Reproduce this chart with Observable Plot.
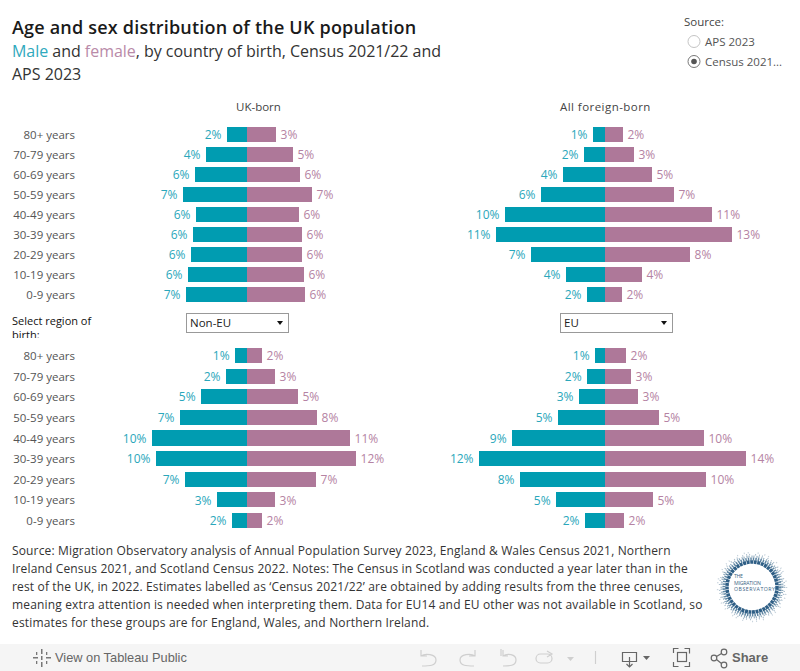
<!DOCTYPE html>
<html><head><meta charset="utf-8">
<script src="https://cdn.jsdelivr.net/npm/d3@7"></script>
<script src="https://cdn.jsdelivr.net/npm/@observablehq/plot@0.6"></script>
<style>
html,body{margin:0;padding:0;background:#fff;overflow:hidden}
#page{position:relative;width:800px;height:671px;overflow:hidden;font-family:"Open Sans",sans-serif;color:#333}
.t{position:absolute;white-space:nowrap}
.panel{position:absolute}
.panel svg{display:block;background:transparent}
.dd{position:absolute;box-sizing:border-box;border:1px solid #999;height:20px;background:#fff;font-size:11.5px;line-height:18px;padding-left:3px;color:#222}
.dd:after{content:"";position:absolute;right:5px;top:7px;border-left:3.5px solid transparent;border-right:3.5px solid transparent;border-top:4px solid #111}
</style></head><body>
<div id="page">
<div class="t" style="left:12px;top:15px;font-size:18px;font-weight:600;color:#1a1a1a;letter-spacing:.2px">Age and sex distribution of the UK population</div>
<div class="t" style="left:12px;top:40px;font-size:16px;color:#333;letter-spacing:-.03px"><span style="color:#2fa9bd">Male</span> and <span style="color:#b98aa8">female</span>, by country of birth, Census 2021/22 and</div>
<div class="t" style="left:12px;top:63px;font-size:16px;color:#333">APS 2023</div>

<div class="t" style="left:684px;top:14px;font-size:11.5px;color:#444">Source:</div>
<svg style="position:absolute;left:685px;top:33px" width="16" height="36">
<circle cx="9" cy="8.500" r="6" fill="#fff" stroke="#c4c4c4"/>
<circle cx="9" cy="28.500" r="6" fill="#fff" stroke="#777"/>
<circle cx="9" cy="28.500" r="2.800" fill="#555"/>
</svg>
<div class="t" style="left:705px;top:34px;font-size:11.5px;color:#555">APS 2023</div>
<div class="t" style="left:705px;top:54px;font-size:11.5px;color:#555">Census 2021...</div>

<div class="t" style="left:236px;top:99px;font-size:11.5px;color:#444">UK-born</div>
<div class="t" style="left:560px;top:99px;font-size:11.5px;color:#444;letter-spacing:.45px">All foreign-born</div>

<div class="t" style="left:12px;top:314px;width:100px;height:24px;overflow:hidden;white-space:normal;font-size:11px;line-height:14px;color:#111">Select region of<br>birth:</div>
<div class="dd" style="left:186px;top:313px;width:103px">Non-EU</div>
<div class="dd" style="left:560px;top:313px;width:113px">EU</div>

<div id="plots"></div>

<div class="t" id="cap" style="left:12px;top:542px;font-size:12px;line-height:18px;color:#333;letter-spacing:.155px"></div>

<svg style="position:absolute;left:716px;top:551px" width="72" height="72" viewBox="0 0 72 72">
<circle cx="36" cy="36" r="34.500" fill="none" stroke="#c3d0da" stroke-width="1.500" stroke-dasharray="1 6 1 3 1 9"/>
<circle cx="36" cy="36" r="32.500" fill="none" stroke="#a9bccb" stroke-width="1.500" stroke-dasharray="1 3 1 2 1 5"/>
<circle cx="36" cy="36" r="30.500" fill="none" stroke="#86a3b8" stroke-width="2" stroke-dasharray="1 2 1 1"/>
<circle cx="36" cy="36" r="28" fill="none" stroke="#5f86a3" stroke-width="3" stroke-dasharray="1.500 1"/>
<circle cx="36" cy="36" r="25" fill="none" stroke="#2f5f86" stroke-width="3.500" stroke-dasharray="3 .6"/>
<text x="18" y="27" font-size="5.200" fill="#3b6485" textLength="9">THE</text>
<text x="18" y="33.500" font-size="5.200" fill="#3b6485" textLength="27">MIGRATION</text>
<text x="18" y="40" font-size="5.200" fill="#3b6485" textLength="41">OBSERVATORY</text>
</svg>

<div style="position:absolute;left:0;top:644px;width:800px;height:27px;background:#f5f5f5"></div>
<svg style="position:absolute;left:32px;top:648px" width="20" height="20" fill="#777">
<rect x="9" y="1" width="1.500" height="5"/><rect x="9" y="14" width="1.500" height="5"/><rect x="1" y="9" width="5" height="1.500"/><rect x="14" y="9" width="5" height="1.500"/><rect x="4" y="4" width="1.300" height="3"/><rect x="14" y="4" width="1.300" height="3"/><rect x="4" y="13" width="1.300" height="3"/><rect x="14" y="13" width="1.300" height="3"/><rect x="9" y="8" width="1.500" height="4"/>
</svg>
<div class="t" style="left:55px;top:650px;font-family:'Liberation Sans',sans-serif;font-size:12.8px;color:#666">View on Tableau Public</div>
<svg style="position:absolute;left:410px;top:644px" width="390" height="27" fill="none" stroke="#cfcfcf" stroke-width="1.200">
<path d="M11 6v6h6M11 12c4-3 15-2 15 4s-7 6-14 6"/>
<path d="M65 6v6h-6M65 12c-4-3-15-2-15 4s7 6 14 6"/>
<path d="M91 5v7M93 6v6h5M93 12c4-3 13-2 13 4s-7 6-13 6"/>
<rect x="126" y="10" width="16" height="9" rx="4.500"/><path d="M137 7l5 3-5 3"/>
<path d="M157 13h7l-3.500 4z" fill="#cfcfcf" stroke="none"/><path d="M185.500 7v13"/>
<g stroke="#666">
<path d="M212.500 8.500h14v9h-14zM219.500 13v10M216.500 20l3 3 3-3"/>
<path d="M233 12h7l-3.500 4z" fill="#666" stroke="none"/>
<rect x="267.500" y="8.500" width="9" height="9"/><path d="M263.500 9v-4.500h5M274.500 4.500h5v5M263.500 18v4.500h5M279.500 18v4.500h-5"/>
<circle cx="304" cy="14" r="2.800"/><circle cx="314" cy="8" r="2.800"/><circle cx="314" cy="21" r="2.800"/><path d="M306.500 12.500l5-3M306.500 15.500l5 4"/>
</g>
</svg>
<div class="t" style="left:732px;top:650px;font-family:'Liberation Sans',sans-serif;font-size:13px;font-weight:700;color:#666">Share</div>
</div>

<script>
const ages = ["80+ years","70-79 years","60-69 years","50-59 years","40-49 years","30-39 years","20-29 years","10-19 years","0-9 years"];

const ukBornMale       = [2.16,4.43,5.62,6.92,5.51,5.84,6.05,6.38,6.59];
const ukBornFemale     = [3.14,4.97,5.73,7.03,5.62,5.95,5.95,6.16,6.27];
const foreignMale      = [1.19,2.08,4.16,6.34,9.90,10.79,7.33,3.86,1.78];
const foreignFemale    = [1.78,2.87,4.65,6.83,10.59,12.57,8.42,3.66,1.68];
const nonEuMale        = [1.29,2.27,4.96,7.23,10.25,9.82,6.69,3.24,1.62];
const nonEuFemale      = [1.62,3.02,5.49,7.55,11.11,11.76,7.44,3.02,1.62];
const euMale           = [0.98,1.77,2.56,4.63,9.15,12.40,8.37,4.82,1.97];
const euFemale         = [2.07,2.56,3.25,5.31,9.74,13.88,9.94,4.72,1.87];

const captionLines = [
 "Source: Migration Observatory analysis of Annual Population Survey 2023, England & Wales Census 2021, Northern",
 "Ireland Census 2021, and Scotland Census 2022. Notes: The Census in Scotland was conducted a year later than in the",
 "rest of the UK, in 2022. Estimates labelled as ‘Census 2021/22’ are obtained by adding results from the three cenuses,",
 "meaning extra attention is needed when interpreting them. Data for EU14 and EU other was not available in Scotland, so",
 "estimates for these groups are for England, Wales, and Northern Ireland."
];
document.getElementById("cap").innerHTML = captionLines.map(l => l.replace("&","&amp;")).join("<br>");

const MALE = "#009cb1", FEMALE = "#ae7899", MALE_TXT = "#2aa7bb", FEMALE_TXT = "#b583a3";
const FONT = '"Open Sans",sans-serif';

function panel({male, female, domain, left, top, width, height, marginLeft, marginTop, marginBottom, padding, showAges, dy}) {
  const rows = ages.map((age, i) => ({age, male: male[i], female: female[i]}));
  const marks = [
    Plot.barX(rows, {x1: 0, x2: d => -d.male, y: "age", fill: MALE, shapeRendering: "crispEdges"}),
    Plot.barX(rows, {x1: 0, x2: "female", y: "age", fill: FEMALE, shapeRendering: "crispEdges"}),
    Plot.text(rows, {x: d => -d.male, y: "age", text: d => Math.round(d.male) + "%", textAnchor: "end", dx: -6, dy, fill: MALE_TXT, fontSize: 12}),
    Plot.text(rows, {x: "female", y: "age", text: d => Math.round(d.female) + "%", textAnchor: "start", dx: 4, dy, fill: FEMALE_TXT, fontSize: 12})
  ];
  if (showAges) marks.push(Plot.axisY({anchor: "left", tickSize: 0, tickPadding: 5.5, label: null, fontSize: 11.5, color: "#555", dy}));
  const svg = Plot.plot({
    width, height, marginLeft, marginRight: 0, marginTop, marginBottom,
    style: {fontFamily: FONT, fontSize: "11.5px", background: "transparent", overflow: "visible"},
    x: {domain, axis: null},
    y: {domain: ages, round: false, padding, axis: null, label: null},
    marks
  });
  const d = document.createElement("div");
  d.className = "panel";
  d.style.left = left + "px"; d.style.top = top + "px";
  d.appendChild(svg);
  document.getElementById("plots").appendChild(d);
}

const topRow = {top: 122, height: 185, marginTop: 0, marginBottom: 0, padding: 0.25, dy: 0.3};
const botRow = {top: 342, height: 192, marginTop: 0.375, marginBottom: 0.375, padding: 0.2727, dy: 0.4};
panel({...topRow, male: ukBornMale, female: ukBornFemale, domain: [-18.05, 16.54], left: 0, width: 400, marginLeft: 80, showAges: true});
panel({...topRow, male: foreignMale, female: foreignFemale, domain: [-20.30, 19.31], left: 400, width: 400, marginLeft: 0});
panel({...botRow, male: nonEuMale, female: nonEuFemale, domain: [-18.02, 16.50], left: 0, width: 400, marginLeft: 80, showAges: true});
panel({...botRow, male: euMale, female: euFemale, domain: [-20.18, 19.19], left: 400, width: 400, marginLeft: 0});
</script>
</body></html>
